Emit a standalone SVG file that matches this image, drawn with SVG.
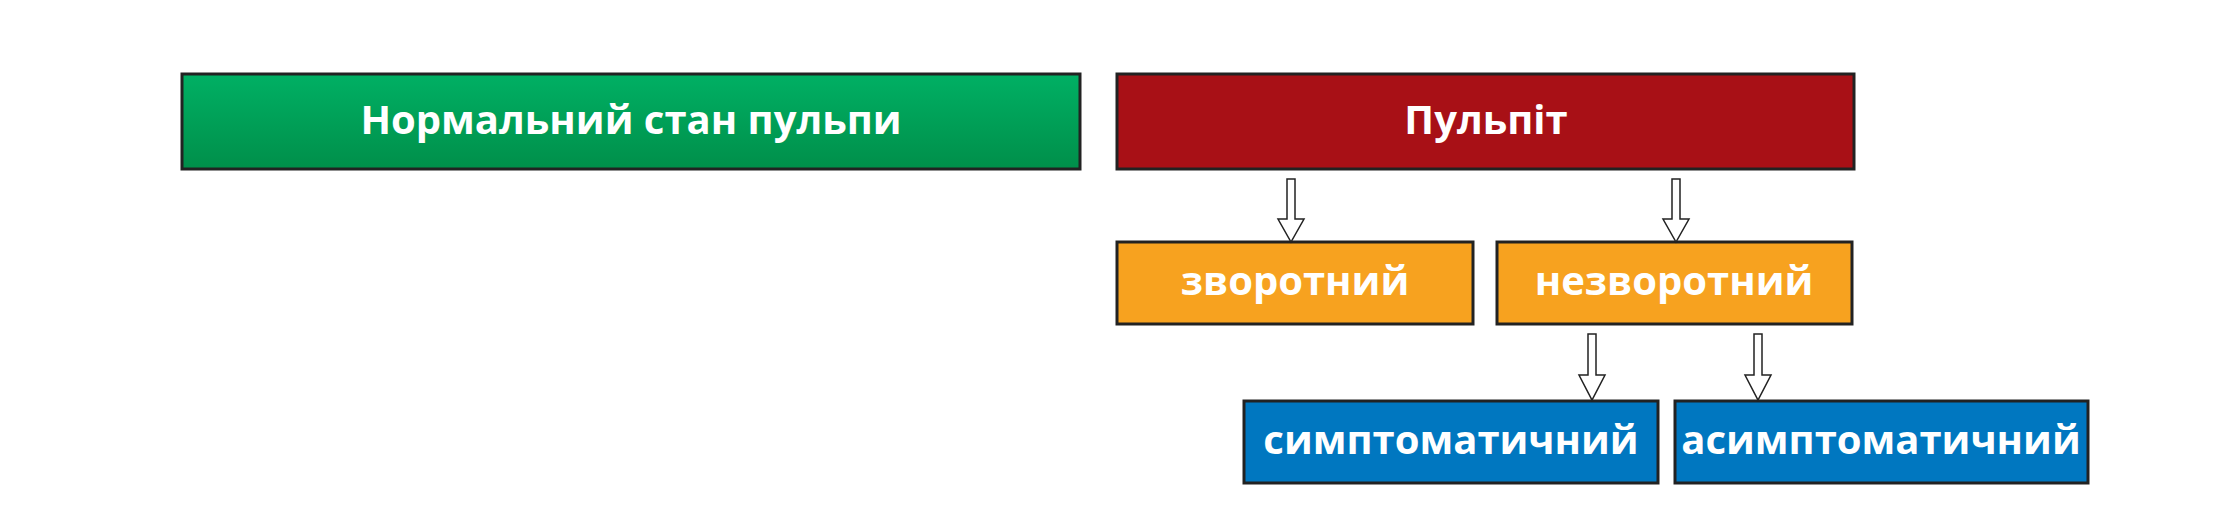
<svg xmlns="http://www.w3.org/2000/svg" width="2229" height="515" viewBox="0 0 2229 515">
<defs>
<linearGradient id="g" x1="0" y1="0" x2="0" y2="1"><stop offset="0" stop-color="#00b064"/><stop offset="1" stop-color="#008f4a"/></linearGradient>
<style>
.b{stroke:#222;stroke-width:3}
.t{font-family:"Open Sans",sans-serif;font-weight:700;fill:#fff;text-anchor:middle}
.a{fill:#fff;stroke:#222;stroke-width:1.5}
</style>
</defs>
<rect width="2229" height="515" fill="#fff"/>
<g id="normal"><rect class="b" x="182" y="74" width="898" height="95" fill="url(#g)"/><text class="t" x="631" y="134" font-size="40">Нормальний стан пульпи</text></g>
<g id="pulpit"><rect class="b" x="1117" y="74" width="737" height="95" fill="#a81016"/><text class="t" x="1486" y="134" font-size="40">Пульпіт</text></g>
<g id="zv"><rect class="b" x="1117" y="242" width="356" height="82" fill="#f7a21f"/><text class="t" x="1295" y="295" font-size="40">зворотний</text></g>
<g id="nzv"><rect class="b" x="1497" y="242" width="355" height="82" fill="#f7a21f"/><text class="t" x="1674" y="295" font-size="40">незворотний</text></g>
<g id="sym"><rect class="b" x="1244" y="401" width="414" height="82" fill="#0077c0"/><text class="t" x="1451" y="454" font-size="40">симптоматичний</text></g>
<g id="asym"><rect class="b" x="1675" y="401" width="413" height="82" fill="#0077c0"/><text class="t" x="1881" y="454" font-size="40">асимптоматичний</text></g>
<g id="connectors">
<path class="a" d="M1287 179h8v40h9l-13 23l-13-23h9z"/>
<path class="a" d="M1672 179h8v40h9l-13 23l-13-23h9z"/>
<path class="a" d="M1588 334h8v41h9l-13 25l-13-25h9z"/>
<path class="a" d="M1754 334h8v41h9l-13 25l-13-25h9z"/>
</g>
</svg>
